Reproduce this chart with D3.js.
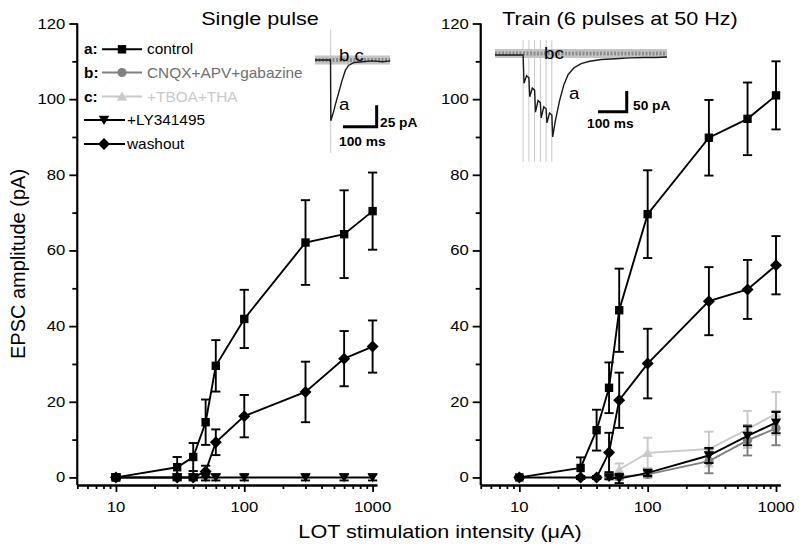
<!DOCTYPE html>
<html><head><meta charset="utf-8">
<script src="https://cdn.jsdelivr.net/npm/d3@7"></script>
<style>html,body{margin:0;padding:0;background:#fff}</style>
</head><body><svg id="c" width="800" height="551"></svg>
<script>
// ---------- DATA ----------
const intensities = [10, 30, 40, 50, 60, 100, 300, 600, 1000];
const singleControl = [0, 2.7, 5.4, 14.6, 29.5, 41.9, 62.1, 64.3, 70.4];
const singleControlErr = [0.4, 2.7, 3.7, 6.0, 6.8, 7.7, 11.2, 11.6, 10.2];
const singleWashout = [0, 0, 0, 1.6, 9.3, 16.2, 22.6, 31.4, 34.6];
const singleWashoutErr = [0.4, 0.4, 0.4, 1.5, 3.4, 5.6, 8.0, 7.3, 6.9];
const singleLY = [0, 0, 0, 0, 0, 0, 0, 0, 0];
const singleLYErr = [0.8, 0.8, 0.8, 0.8, 0.8, 0.8, 0.8, 0.8, 0.8];

const trainControl = [0, 2.5, 12.5, 23.7, 44.2, 69.6, 89.8, 94.8, 101.0];
const trainControlErr = [0.4, 2.8, 5.4, 6.7, 11.0, 11.6, 10.0, 9.6, 9.0];
const trainWashout = [0, 0, 0, 6.6, 20.4, 30.1, 46.6, 49.7, 56.1];
const trainWashoutErr = [0.4, 0.4, 0.4, 5.2, 7.3, 9.2, 9.0, 7.8, 7.7];
const lowIntensities = [50, 60, 100, 300, 600, 1000];
const trainCNQX = [0.3, 0.2, 0.8, 4.3, 9.8, 13.0];
const trainCNQXErr = [0.5, 0.8, 0.8, 3.2, 4.0, 4.5];
const trainLY = [0, -0.3, 1.2, 5.8, 11.0, 14.5];
const trainLYErr = [0.5, 1.2, 0.8, 2.0, 2.5, 2.8];
const tboaIntensities = [60, 100, 300, 600, 1000];
const trainTBOA = [2.1, 6.5, 7.5, 12.7, 16.9];
const trainTBOAErr = [1.6, 4.0, 4.6, 4.9, 5.7];

const yMajorTicks = [0, 20, 40, 60, 80, 100, 120];
const yMinorTicks = [10, 30, 50, 70, 90, 110];
const xMajorTicks = [10, 100, 1000];
const xMinorTicks = [5, 6, 7, 8, 9, 20, 30, 40, 50, 60, 70, 80, 90, 200, 300, 400, 500, 600, 700, 800, 900];

const legendLabels = ["control", "CNQX+APV+gabazine", "+TBOA+THA", "+LY341495", "washout"];
const legendPrefix = ["a:", "b:", "c:", "", ""];

// inset traces: [time ms, current pA]
const singleTraceA = [[0,0],[46,0],[47,-70],[50,-66],[55,-60],[60,-52],[70,-38],[80,-24],[90,-12],[100,-6],[115,-3],[140,-2],[170,-1],[200,-2],[223,-1]];
const singleBaseline = [[0,0],[223,0]];
const singleStim = [46.6];
const trainTraceA = [[0,0],[98,0],[101,-68],[110,-50],[118,-55],[121,-101],[130,-80],[138,-85],[141,-138],[150,-110],[158,-115],[161,-152],[170,-125],[178,-130],[181,-164],[190,-140],[198,-145],[201,-198],[210,-160],[225,-110],[240,-72],[255,-47],[275,-31],[300,-21],[330,-15],[370,-11],[420,-9],[470,-7],[520,-6],[560,-6],[599,-5]];
const trainBaseline = [[0,3.5],[599,3.5]];
const trainStim = [98, 118, 138, 158, 178, 198];

// ---------- DRAWING ----------
const svg = d3.select("#c");
const FONT = '"Liberation Sans", Arial, Helvetica, sans-serif';
function txt(g, x, y, s, o) {
  o = o || {};
  return g.append("text")
    .attr("transform", `translate(${x},${y}) scale(${o.sx || 1},1)`)
    .attr("text-anchor", o.anchor || "start")
    .attr("font-size", o.size || 14)
    .attr("font-weight", o.weight || "normal")
    .attr("fill", o.fill || "#000")
    .attr("font-family", FONT)
    .text(s);
}

const y = d3.scaleLinear().domain([-2, 120]).range([485, 23.5]);
const xDomain = [5, 1080];
const panels = [
  { x: d3.scaleLog().domain(xDomain).range([77.3, 376.9]), title: "Single pulse", tx: 260 },
  { x: d3.scaleLog().domain(xDomain).range([480.7, 780.3]), title: "Train (6 pulses at 50 Hz)", tx: 620 }
];

function symPath(type, s) {
  switch (type) {
    case "square": return `M${-s},${-s}H${s}V${s}H${-s}Z`;
    case "diamond": return `M0,${-s}L${s},0L0,${s}L${-s},0Z`;
    case "triDown": return `M${-s},${-s*0.8}H${s}L0,${s*0.95}Z`;
    case "triUp": return `M${-s},${s*0.8}H${s}L0,${-s*0.95}Z`;
    case "circle": return d3.arc()({innerRadius:0, outerRadius:s, startAngle:0, endAngle:2*Math.PI});
  }
}
const symSize = { square: 4.2, diamond: 6, triDown: 5.2, triUp: 5.2, circle: 4.6 };

function drawSeries(g, xs, xv, yv, ev, type, color) {
  const data = xv.map((d, i) => ({ x: d, y: yv[i], e: ev[i] }));
  g.append("path").datum(data)
    .attr("d", d3.line().x(d => xs(d.x)).y(d => y(d.y)))
    .attr("fill", "none").attr("stroke", color).attr("stroke-width", 1.9);
  const eb = g.append("g").attr("stroke", color).attr("stroke-width", 1.9);
  data.forEach(d => {
    const cx = xs(d.x);
    eb.append("line").attr("x1", cx).attr("x2", cx).attr("y1", y(d.y - d.e)).attr("y2", y(d.y + d.e));
    eb.append("line").attr("x1", cx - 4.6).attr("x2", cx + 4.6).attr("y1", y(d.y - d.e)).attr("y2", y(d.y - d.e));
    eb.append("line").attr("x1", cx - 4.6).attr("x2", cx + 4.6).attr("y1", y(d.y + d.e)).attr("y2", y(d.y + d.e));
  });
  g.append("g").selectAll("path").data(data).join("path")
    .attr("transform", d => `translate(${xs(d.x)},${y(d.y)})`)
    .attr("d", symPath(type, symSize[type])).attr("fill", color);
}

panels.forEach((p, pi) => {
  const g = svg.append("g");
  const x0 = p.x.range()[0];
  // y axis
  const ya = g.append("g").attr("transform", `translate(${x0},0)`);
  ya.call(d3.axisLeft(y).tickValues(yMajorTicks).tickSize(8).tickSizeOuter(0).tickFormat(""));
  ya.append("g").call(d3.axisLeft(y).tickValues(yMinorTicks).tickSize(5).tickSizeOuter(0).tickFormat(""));
  ya.selectAll("path.domain").attr("d", `M0,${y(-2)}V${y(120)}`);
  ya.selectAll("path,line").attr("stroke", "#000").attr("stroke-width", 1.8);
  yMajorTicks.forEach(v => txt(g, x0 - 12, y(v) + 5, String(v), { anchor: "end", size: 14.5, sx: 1.15 }));
  // x axis
  const xa = g.append("g").attr("transform", `translate(0,${y(-2)})`);
  xa.call(d3.axisBottom(p.x).tickValues(xMajorTicks).tickSize(7).tickSizeOuter(0).tickFormat(""));
  xa.append("g").call(d3.axisBottom(p.x).tickValues(xMinorTicks).tickSize(4).tickSizeOuter(0).tickFormat(""));
  xa.selectAll("path,line").attr("stroke", "#000").attr("stroke-width", 1.8);
  xMajorTicks.forEach(v => txt(g, p.x(v), 512, String(v), { anchor: "middle", size: 14.5, sx: 1.15 }));
  txt(g, p.tx, 25, p.title, { anchor: "middle", size: 18, sx: 1.2 });
});

// series
const gL = svg.append("g"), gR = svg.append("g");
const xL = panels[0].x, xR = panels[1].x;
drawSeries(gL, xL, intensities, singleLY, singleLYErr, "triDown", "#000");
drawSeries(gL, xL, intensities, singleWashout, singleWashoutErr, "diamond", "#000");
drawSeries(gL, xL, intensities, singleControl, singleControlErr, "square", "#000");

drawSeries(gR, xR, tboaIntensities, trainTBOA, trainTBOAErr, "triUp", "#c9c9c9");
drawSeries(gR, xR, lowIntensities, trainCNQX, trainCNQXErr, "circle", "#7f7f7f");
drawSeries(gR, xR, lowIntensities, trainLY, trainLYErr, "triDown", "#000");
drawSeries(gR, xR, intensities, trainWashout, trainWashoutErr, "diamond", "#000");
drawSeries(gR, xR, intensities, trainControl, trainControlErr, "square", "#000");

// axis titles
txt(svg, 440, 538, "LOT stimulation intensity (\u03bcA)", { anchor: "middle", size: 18, sx: 1.2 });
svg.append("text").attr("transform", "translate(25,264) rotate(-90)")
  .attr("text-anchor", "middle").attr("font-size", 20).attr("font-family", FONT)
  .text("EPSC amplitude (pA)");

// legend
const legTypes = ["square", "circle", "triUp", "triDown", "diamond"];
const legColors = ["#000", "#7f7f7f", "#c9c9c9", "#000", "#000"];
const legTextColors = ["#000", "#6f6f6f", "#c9c9c9", "#000", "#000"];
const legRowsY = [49.3, 72.5, 96.5, 120, 144];
const lg = svg.append("g");
legendLabels.forEach((lab, i) => {
  const cy = legRowsY[i];
  const hasP = legendPrefix[i] !== "";
  const lx0 = hasP ? 102 : 84, lx1 = hasP ? 142 : 125, mx = hasP ? 122 : 104, tx = hasP ? 147 : 127;
  if (hasP) txt(lg, 84, cy + 5, legendPrefix[i], { size: 14, weight: "bold", sx: 1.1 });
  lg.append("line").attr("x1", lx0).attr("x2", lx1).attr("y1", cy).attr("y2", cy)
    .attr("stroke", legColors[i]).attr("stroke-width", 1.9);
  lg.append("path").attr("transform", `translate(${mx},${cy})`).attr("d", symPath(legTypes[i], symSize[legTypes[i]])).attr("fill", legColors[i]);
  txt(lg, tx, cy + 5, lab, { size: 14, fill: legTextColors[i], sx: 1.1 });
});

// ---------- INSETS ----------
function inset(t0px, msPx, v0px, pAPx, traceA, base, stims, stimRange, bar, labels) {
  const ts = d3.scaleLinear().domain([0, 100]).range([t0px, t0px + 100 * msPx]);
  const vs = d3.scaleLinear().domain([0, -10]).range([v0px, v0px + 10 * pAPx]);
  const g = svg.append("g");
  stims.forEach(s => g.append("line").attr("x1", ts(s)).attr("x2", ts(s))
    .attr("y1", vs(stimRange[0])).attr("y2", vs(stimRange[1]))
    .attr("stroke", "#c8c8c8").attr("stroke-width", 1));
  const line = d3.line().x(d => ts(d[0])).y(d => vs(d[1]));
  g.append("path").datum(base).attr("d", line).attr("fill", "none").attr("stroke", "#c4c4c4").attr("stroke-width", 9);
  g.append("path").datum(base).attr("d", line).attr("fill", "none").attr("stroke", "#8c8c8c").attr("stroke-width", 4).attr("stroke-dasharray", "2,1.5");
  g.append("path").datum(traceA).attr("d", line).attr("fill", "none").attr("stroke", "#1a1a1a").attr("stroke-width", 1.4);
  // scale bar
  g.append("path").attr("d", `M${ts(bar.t0)},${vs(bar.v0)}H${ts(bar.t1)}V${vs(bar.v1)}`)
    .attr("fill", "none").attr("stroke", "#000").attr("stroke-width", 3);
  labels.forEach(l => txt(g, l[0], l[1], l[2], l[3]));
}
inset(315, 0.337, 60, 0.868, singleTraceA, singleBaseline, singleStim, [35, -107],
  { t0: 83, t1: 183, v0: -77, v1: -52 },
  [[339, 61, "b c", { size: 17, sx: 1.1 }], [339, 110, "a", { size: 17, sx: 1.1 }],
   [380, 127, "25 pA", { size: 12.5, weight: "bold", sx: 1.1 }],
   [339, 146, "100 ms", { size: 12.5, weight: "bold", sx: 1.1 }]]);
inset(495, 0.287, 55, 0.414, trainTraceA, trainBaseline, trainStim, [36, -258],
  { t0: 359, t1: 459, v0: -137, v1: -87 },
  [[544, 59, "bc", { size: 17, sx: 1.1 }], [569, 99, "a", { size: 17, sx: 1.1 }],
   [633, 110, "50 pA", { size: 12.5, weight: "bold", sx: 1.1 }],
   [587, 128, "100 ms", { size: 12.5, weight: "bold", sx: 1.1 }]]);
</script></body></html>
